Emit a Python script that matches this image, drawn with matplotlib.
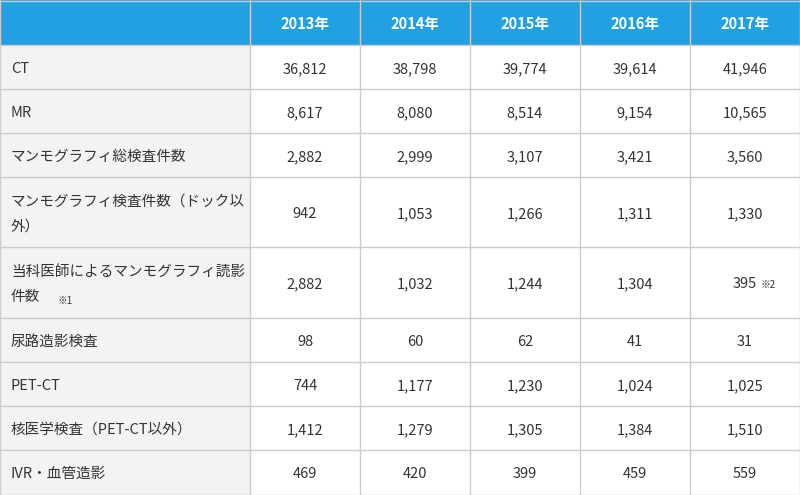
import matplotlib
matplotlib.use("Agg")
import matplotlib.pyplot as plt
from matplotlib.patches import Rectangle

years = ["2013年", "2014年", "2015年", "2016年", "2017年"]
row_labels = ["CT", "MR", "マンモグラフィ総検査件数", "マンモグラフィ検査件数（ドック以\n外）",
              "当科医師によるマンモグラフィ読影\n件数", "尿路造影検査", "PET-CT",
              "核医学検査（PET-CT以外）", "IVR・血管造影"]
values = [
    ["36,812", "38,798", "39,774", "39,614", "41,946"],
    ["8,617", "8,080", "8,514", "9,154", "10,565"],
    ["2,882", "2,999", "3,107", "3,421", "3,560"],
    ["942", "1,053", "1,266", "1,311", "1,330"],
    ["2,882", "1,032", "1,244", "1,304", "395"],
    ["98", "60", "62", "41", "31"],
    ["744", "1,177", "1,230", "1,024", "1,025"],
    ["1,412", "1,279", "1,305", "1,384", "1,510"],
    ["469", "420", "399", "459", "559"],
]

font = "Noto Sans CJK JP"
W, H = 800, 495
fig = plt.figure(figsize=(8, 4.95), dpi=100)
ax = fig.add_axes([0, 0, 1, 1])
ax.set_xlim(0, W); ax.set_ylim(H, 0); ax.axis("off")

col_x = [0, 250, 360, 470, 580, 690, 799.5]
row_y = [0.5, 45, 89, 133, 177, 247, 318, 362, 406, 450, 494.5]
blue = "#22a1e2"; gray = "#f3f3f3"; border = "#cccccc"; tc = "#333333"
dy = 2

ax.add_patch(Rectangle((0, 0), W, row_y[1], color=blue, lw=0))
for i in range(len(row_labels)):
    ax.add_patch(Rectangle((0, row_y[i+1]), col_x[1], row_y[i+2]-row_y[i+1], color=gray, lw=0))
for x in col_x:
    ax.plot([x, x], [0, H], color=border, lw=1)
for y in row_y:
    ax.plot([0, W], [y, y], color=border, lw=1)

for j, yr in enumerate(years):
    ax.text((col_x[j+1]+col_x[j+2])/2, row_y[1]/2 + dy, yr, ha="center", va="center",
            color="white", fontsize=10.5, fontweight="bold", family=font)

for i, lab in enumerate(row_labels):
    yc = (row_y[i+1]+row_y[i+2])/2 + dy
    ax.text(11, yc, lab, ha="left", va="center", color=tc, fontsize=10.5,
            family=font, linespacing=2.0)
    if i == 4:
        ax.text(58, yc+16, "※1", ha="left", va="center", color=tc, fontsize=7, family=font)
    for j, v in enumerate(values[i]):
        xc = (col_x[j+1]+col_x[j+2])/2
        if i == 4 and j == 4:
            ax.text(xc+12, yc, v, ha="right", va="center", color=tc, fontsize=10.5, family=font)
            ax.text(xc+16, yc+1, "※2", ha="left", va="center", color=tc, fontsize=7, family=font)
        else:
            ax.text(xc, yc, v, ha="center", va="center", color=tc, fontsize=10.5, family=font)

fig.savefig("out.png", dpi=100)
